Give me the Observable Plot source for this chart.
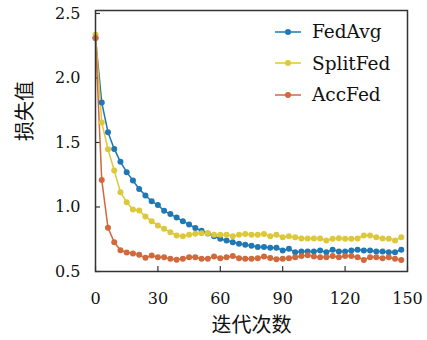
<!DOCTYPE html>
<html>
<head>
<meta charset="utf-8">
<script src="https://cdn.jsdelivr.net/npm/d3@7"></script>
<script src="https://cdn.jsdelivr.net/npm/@observablehq/plot@0.6"></script>
<style>
  body { margin: 0; background: #fff; }
  #wrap { position: relative; width: 427px; height: 340px; }
  #legend { position: absolute; left: 274px; top: 16px; font-family: "DejaVu Serif", serif; font-size: 18.5px; color: #111; }
  #legend .row { display: flex; align-items: center; height: 31.5px; }
  #legend svg { margin-right: 10px; }
</style>
</head>
<body>
<div id="wrap"><div id="legend"></div></div>
<script>
const iterations = d3.range(0, 150, 3);
const seriesNames = ["FedAvg", "SplitFed", "AccFed"];
const seriesColors = ["#1f78b4", "#dcc83a", "#d0693c"];
const fedAvg = [
  2.31,1.81,1.58,1.45,1.35,1.27,1.205,1.14,1.09,1.045,
  1.015,0.97,0.945,0.918,0.89,0.865,0.838,0.815,0.795,0.774,
  0.753,0.74,0.727,0.715,0.708,0.70,0.69,0.69,0.685,0.685,
  0.663,0.676,0.65,0.655,0.655,0.655,0.663,0.65,0.668,0.655,
  0.655,0.663,0.668,0.663,0.663,0.655,0.655,0.65,0.65,0.668
];
const splitFed = [
  2.335,1.655,1.448,1.283,1.115,1.037,0.98,0.973,0.926,0.89,
  0.857,0.831,0.805,0.779,0.774,0.784,0.792,0.797,0.797,0.784,
  0.784,0.784,0.774,0.784,0.79,0.784,0.784,0.79,0.774,0.784,
  0.766,0.774,0.766,0.756,0.756,0.756,0.756,0.74,0.753,0.758,
  0.753,0.753,0.756,0.779,0.779,0.766,0.756,0.753,0.74,0.766
];
const accFed = [
  2.31,1.21,0.84,0.727,0.665,0.648,0.64,0.63,0.606,0.624,
  0.611,0.611,0.598,0.592,0.598,0.61,0.61,0.598,0.598,0.617,
  0.603,0.61,0.62,0.603,0.598,0.598,0.603,0.617,0.605,0.595,
  0.598,0.603,0.61,0.62,0.625,0.617,0.61,0.61,0.62,0.61,
  0.62,0.62,0.61,0.59,0.61,0.61,0.603,0.61,0.598,0.59
];
const xTicks = [0, 30, 60, 90, 120, 150];
const yTicks = [0.5, 1.0, 1.5, 2.0, 2.5];
const xLabel = "迭代次数";
const yLabel = "损失值";

const allValues = [fedAvg, splitFed, accFed];
const data = [];
seriesNames.forEach((name, i) => {
  iterations.forEach((it, j) => data.push({series: name, x: it, y: allValues[i][j]}));
});

const W = 427, H = 340, mL = 95, mR = 20, mT = 10, mB = 69, tick = 5;
const serif = "DejaVu Serif, serif";
const cjk = "Noto Sans CJK SC, sans-serif";

const chart = Plot.plot({
  width: W,
  height: H,
  marginLeft: mL,
  marginRight: mR,
  marginTop: mT,
  marginBottom: mB,
  style: {fontFamily: serif, fontSize: "16px", color: "#111", background: "#fff"},
  x: {domain: [0, 150]},
  y: {domain: [0.5, 2.523]},
  color: {domain: seriesNames, range: seriesColors},
  marks: [
    Plot.axisX(xTicks, {tickSize: 0, tickPadding: 21, label: null, fontSize: 16}),
    Plot.axisY(yTicks, {tickSize: 0, tickPadding: 15, label: null, tickFormat: d3.format(".1f"), fontSize: 16}),
    Plot.ruleX(xTicks, {x: d => d, insetTop: (H - mT - mB) - tick, stroke: "#333", strokeWidth: 1.2}),
    Plot.ruleY(yTicks, {y: d => d, insetRight: (W - mL - mR) - tick, stroke: "#333", strokeWidth: 1.2}),
    Plot.line(data, {x: "x", y: "y", z: "series", stroke: "series", strokeWidth: 1.5}),
    Plot.dot(data, {x: "x", y: "y", fill: "series", r: 3}),
    Plot.frame({stroke: "#333", strokeWidth: 1.5}),
    Plot.text([xLabel], {frameAnchor: "bottom", dy: 60, fontFamily: cjk, fontSize: 20, fill: "#111"}),
    Plot.text([yLabel], {frameAnchor: "left", dx: -70, rotate: -90, fontFamily: cjk, fontSize: 20, fill: "#111"})
  ]
});
document.getElementById("wrap").prepend(chart);

const legend = document.getElementById("legend");
seriesNames.forEach((name, i) => {
  const row = document.createElement("div");
  row.className = "row";
  row.innerHTML = `<svg width="28" height="10"><line x1="1" y1="5" x2="27" y2="5" stroke="${seriesColors[i]}" stroke-width="1.5"/><circle cx="14" cy="5" r="3" fill="${seriesColors[i]}"/></svg><span>${name}</span>`;
  legend.appendChild(row);
});
</script>
</body>
</html>
